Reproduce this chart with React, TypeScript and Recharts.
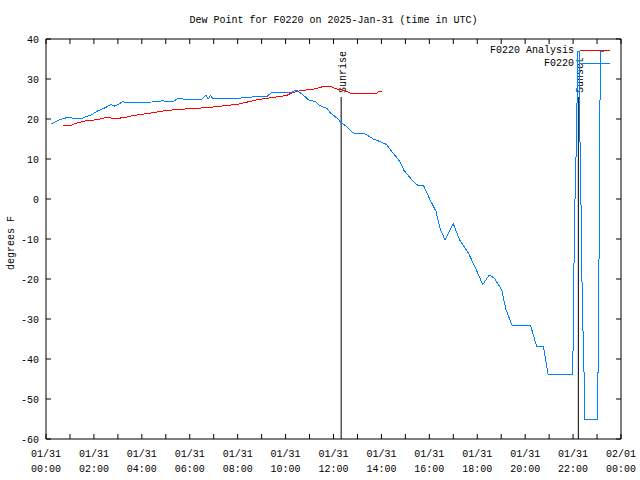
import { LineChart, Line, XAxis, YAxis, ReferenceLine, Legend, Label } from "recharts";

const FONT = "'Liberation Mono', 'DejaVu Sans Mono', monospace";

// hours since 01/31 00:00 UTC, dew point in degrees F
const analysisHours = [0.7, 1.07, 1.28, 1.63, 2.09, 2.39, 2.64, 2.81, 3.06, 3.37, 3.64, 4.06, 4.62, 4.9, 5.48, 6.29, 6.98, 7.33, 7.61, 8.07, 8.79, 9.49, 10.05, 10.25, 10.67, 11.02, 11.3, 11.64, 11.85, 12.13, 12.48, 12.69, 13.8, 13.87, 14.01];
const analysisDew = [18.5, 18.5, 19.0, 19.5, 19.8, 20.2, 20.5, 20.0, 20.2, 20.5, 20.9, 21.2, 21.75, 22.0, 22.4, 22.65, 23.0, 23.25, 23.4, 23.75, 24.8, 25.4, 25.9, 26.5, 27.2, 27.3, 27.65, 28.25, 28.2, 27.5, 27.1, 26.5, 26.3, 26.9, 27.0];

const obsHours = [0.21, 0.45, 0.66, 0.97, 1.18, 1.49, 1.63, 1.91, 2.18, 2.46, 2.71, 2.88, 3.2, 3.39, 4.76, 4.87, 5.0, 5.31, 5.52, 5.73, 6.5, 6.68, 6.77, 6.87, 6.98, 7.33, 8.07, 8.59, 9.21, 9.42, 10.25, 10.43, 10.56, 10.77, 10.95, 11.23, 11.44, 11.72, 11.85, 12.13, 12.34, 12.55, 12.76, 12.94, 13.31, 13.66, 14.01, 14.22, 14.43, 14.77, 14.94, 15.33, 15.5, 15.75, 16.03, 16.28, 16.44, 16.65, 17.0, 17.28, 17.63, 17.9, 18.23, 18.5, 18.71, 19.02, 19.2, 19.46, 20.23, 20.48, 20.76, 20.96, 21.97, 22.0, 22.05, 22.09, 22.15, 22.19, 22.25, 22.29, 22.33, 22.36, 22.4, 22.47, 22.48, 23.01, 23.05, 23.09, 23.12, 23.14, 23.29];
const obsDew = [18.75, 19.5, 20.0, 20.5, 20.1, 20.0, 20.5, 21.1, 22.1, 22.8, 23.6, 23.2, 24.3, 24.1, 24.3, 24.7, 24.3, 24.4, 25.2, 25.0, 25.0, 25.9, 25.0, 25.9, 25.0, 25.2, 25.2, 25.5, 25.6, 26.6, 26.6, 27.25, 26.8, 25.8, 24.8, 24.4, 23.3, 22.65, 21.65, 20.3, 19.0, 18.15, 16.75, 16.3, 16.3, 15.0, 14.2, 13.6, 11.9, 9.4, 7.15, 4.4, 3.5, 3.5, -0.2, -3.1, -7.25, -10.2, -6.2, -10.4, -13.5, -16.9, -21.4, -19.0, -19.75, -22.7, -27.7, -31.7, -31.7, -36.9, -36.9, -43.9, -43.9, -37.3, -10.2, 3.2, 16.9, 36.9, 36.9, 14.0, -1.0, -16.8, -29.3, -46.8, -55.2, -55.2, -39.8, -9.4, 21.5, 37.0, 37.0];

const hourTicks = [0, 1, 2, 3, 4, 5, 6, 7, 8, 9, 10, 11, 12, 13, 14, 15, 16, 17, 18, 19, 20, 21, 22, 23, 24];
const xLabelHours = [0, 2, 4, 6, 8, 10, 12, 14, 16, 18, 20, 22, 24];
const xLabelDates = ["01/31", "01/31", "01/31", "01/31", "01/31", "01/31", "01/31", "01/31", "01/31", "01/31", "01/31", "01/31", "02/01"];
const xLabelTimes = ["00:00", "02:00", "04:00", "06:00", "08:00", "10:00", "12:00", "14:00", "16:00", "18:00", "20:00", "22:00", "00:00"];
const yTicks = [-60, -50, -40, -30, -20, -10, 0, 10, 20, 30, 40];

const seriesNames = ["F0220 Analysis", "F0220"];

const sunriseHour = 12.32;
const sunsetHour = 22.22;
const sunLineTop = 25.5;

const analysisData = analysisHours.map((h, i) => ({ h, v: analysisDew[i] }));
const obsData = obsHours.map((h, i) => ({ h, v: obsDew[i] }));

const txt = { fontFamily: FONT, fontSize: 10, fill: "#000" };

function BottomTick({ x, y, payload }: any) {
  const i = xLabelHours.indexOf(payload.value);
  return (
    <g>
      <line x1={x} y1={y} x2={x} y2={y - 5} stroke="#000" />
      {i >= 0 && (
        <text x={x} y={y + 17.5} textAnchor="middle" style={txt}>{xLabelDates[i]}</text>
      )}
      {i >= 0 && (
        <text x={x} y={y + 32.5} textAnchor="middle" style={txt}>{xLabelTimes[i]}</text>
      )}
    </g>
  );
}

function TopTick({ x, y }: any) {
  return <line x1={x} y1={y} x2={x} y2={y + 5} stroke="#000" />;
}

function LeftTick({ x, y, payload }: any) {
  return (
    <g>
      <line x1={x} y1={y} x2={x + 5} y2={y} stroke="#000" />
      <text x={x - 7} y={y + 3.5} textAnchor="end" style={txt}>{payload.value}</text>
    </g>
  );
}

function RightTick({ x, y }: any) {
  return <line x1={x} y1={y} x2={x - 5} y2={y} stroke="#000" />;
}

const sunLabel = (name: string) => (props: any) => {
  const vb = props.viewBox || {};
  const x = vb.x ?? vb.x1;
  const top = vb.y ?? Math.min(vb.y1, vb.y2);
  const ty = top - 4;
  const tx = x + 5;
  return (
    <text x={tx} y={ty} transform={`rotate(-90 ${tx} ${ty})`} textAnchor="start" style={txt}>
      {name}
    </text>
  );
};

const yTitle = (props: any) => {
  const vb = props.viewBox || { y: 39, height: 400 };
  const cy = vb.y + vb.height / 2 + 4;
  return (
    <text x={14} y={cy} transform={`rotate(-90 14 ${cy})`} textAnchor="middle" style={txt}>
      degrees F
    </text>
  );
};

function LegendBox({ payload }: any) {
  const items = [...(payload || [])].sort(
    (a: any, b: any) => seriesNames.indexOf(a.value) - seriesNames.indexOf(b.value)
  );
  return (
    <div>
      {items.map((e: any) => (
        <div key={e.value} style={{ display: "flex", justifyContent: "flex-end", alignItems: "center", height: 13 }}>
          <span style={{ fontFamily: FONT, fontSize: 10, color: "#000", whiteSpace: "nowrap" }}>{e.value}</span>
          <svg width={36} height={13} style={{ display: "block" }}>
            <line x1={6} x2={36} y1={6.5} y2={6.5} stroke={e.color} shapeRendering="crispEdges" />
          </svg>
        </div>
      ))}
    </div>
  );
}

export default function App() {
  return (
    <div style={{ position: "absolute", left: 0, top: 0, width: 640, height: 480, background: "#fff" }}>
      <div
        style={{
          position: "absolute",
          left: 46,
          width: 575,
          top: 15,
          textAlign: "center",
          fontFamily: FONT,
          fontSize: 10,
          lineHeight: "11px",
          color: "#000",
          whiteSpace: "nowrap",
        }}
      >
        Dew Point for F0220 on 2025-Jan-31 (time in UTC)
      </div>
      <LineChart width={640} height={480} margin={{ top: 0, right: 0, bottom: 0, left: 0 }}>
        <XAxis
          xAxisId="b"
          type="number"
          dataKey="h"
          domain={[0, 24]}
          ticks={hourTicks}
          interval={0}
          tick={<BottomTick />}
          tickSize={0}
          tickMargin={0}
          tickLine={false}
          axisLine={{ stroke: "#000" }}
          height={41}
          allowDataOverflow
        />
        <XAxis
          xAxisId="t"
          orientation="top"
          type="number"
          dataKey="h"
          domain={[0, 24]}
          ticks={hourTicks}
          interval={0}
          tick={<TopTick />}
          tickSize={0}
          tickMargin={0}
          tickLine={false}
          axisLine={{ stroke: "#000" }}
          height={39}
          allowDataOverflow
        />
        <YAxis
          yAxisId="l"
          type="number"
          domain={[-60, 40]}
          ticks={yTicks}
          interval={0}
          tick={<LeftTick />}
          tickSize={0}
          tickMargin={0}
          tickLine={false}
          axisLine={{ stroke: "#000" }}
          width={46}
          allowDataOverflow
        >
          <Label content={yTitle} />
        </YAxis>
        <YAxis
          yAxisId="r"
          orientation="right"
          type="number"
          domain={[-60, 40]}
          ticks={yTicks}
          interval={0}
          tick={<RightTick />}
          tickSize={0}
          tickMargin={0}
          tickLine={false}
          axisLine={{ stroke: "#000" }}
          width={19}
          allowDataOverflow
        />
        <ReferenceLine
          xAxisId="b"
          yAxisId="l"
          segment={[{ x: sunriseHour, y: sunLineTop }, { x: sunriseHour, y: -60 }]}
          stroke="#000"
          strokeWidth={1}
          label={sunLabel("Sunrise")}
        />
        <ReferenceLine
          xAxisId="b"
          yAxisId="l"
          segment={[{ x: sunsetHour, y: sunLineTop }, { x: sunsetHour, y: -60 }]}
          stroke="#000"
          strokeWidth={1}
          label={sunLabel("Sunset")}
        />
        <Line
          xAxisId="b"
          yAxisId="l"
          data={analysisData}
          dataKey="v"
          name={seriesNames[0]}
          type="linear"
          stroke="#ff0000"
          strokeWidth={1}
          dot={false}
          activeDot={false}
          isAnimationActive={false}
          shapeRendering="crispEdges"
        />
        <Line
          xAxisId="b"
          yAxisId="l"
          data={obsData}
          dataKey="v"
          name={seriesNames[1]}
          type="linear"
          stroke="#0080ff"
          strokeWidth={1}
          dot={false}
          activeDot={false}
          isAnimationActive={false}
          shapeRendering="crispEdges"
        />
        <Legend
          layout="vertical"
          align="center"
          verticalAlign="middle"
          content={<LegendBox />}
          wrapperStyle={{ position: "absolute", top: 44, right: 30, left: "auto", bottom: "auto", width: "auto" }}
        />
      </LineChart>
    </div>
  );
}
